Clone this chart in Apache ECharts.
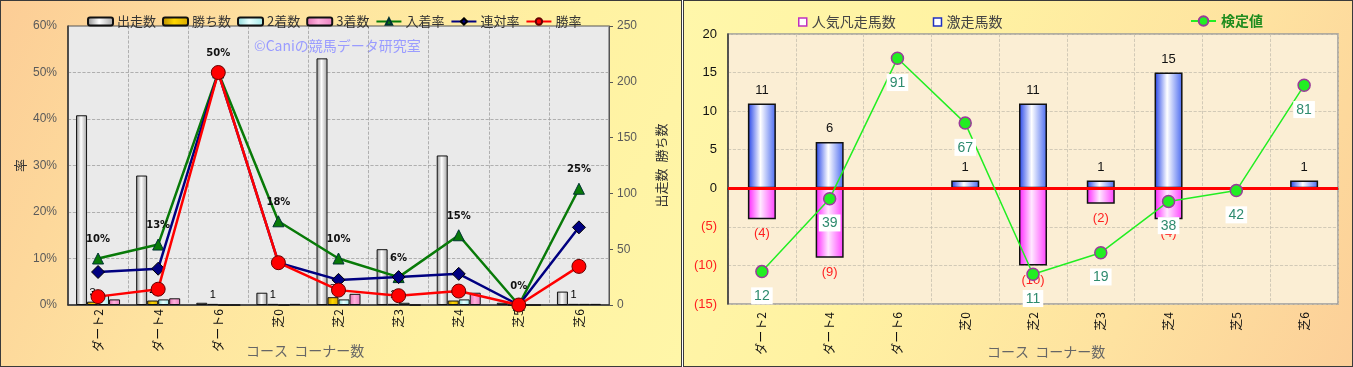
<!DOCTYPE html>
<html><head><meta charset="utf-8">
<script src="https://cdn.jsdelivr.net/npm/echarts@6/dist/echarts.min.js"></script>
<style>
html,body{margin:0;padding:0;width:1353px;height:367px;overflow:hidden;background:#fff;}
#lp{position:absolute;left:0;top:0;width:680px;height:365px;border:1px solid #3a3a3a;
 background:linear-gradient(115deg,#fccd96 0%,#fee3a0 35%,#fff2a2 70%,#fff6a8 100%);}
#rp{position:absolute;left:683px;top:0;width:668px;height:365px;border:1px solid #3a3a3a;
 background:linear-gradient(115deg,#fff7aa 0%,#fff2a2 35%,#fee2a0 70%,#fccf98 100%);}
#c{position:absolute;left:0;top:0;width:1353px;height:367px;}
</style></head><body>
<div id="lp"></div><div id="rp"></div><div id="c"></div>
<script>
// ---- data ----
const categories = ['ダート2','ダート4','ダート6','芝0','芝2','芝3','芝4','芝5','芝6'];
// left chart
const starts  = [170,116,2,11,221,50,134,2,12];   // 出走数
const wins    = [3,4,1,1,7,1,4,0,1];             // 勝ち数
const seconds = [9,5,0,0,5,2,5,0,1];             // 2着数
const thirds  = [5,6,0,1,10,0,11,0,1];           // 3着数
const placeRate = [10,13,50,18,10,6,15,0,25];    // 入着率 %
const rentaiRate = [7.1,7.8,50,9.1,5.4,6.0,6.7,0,16.7]; // 連対率 %
const winRate = [1.8,3.4,50,9.1,3.2,2.0,3.0,0,8.3];     // 勝率 %
const leftTicksPct = [0,10,20,30,40,50,60];
const rightTicksCnt = [0,50,100,150,200,250];
// right chart
const gekisou = [11,6,0,1,11,1,15,0,1];          // 激走馬数
const ninkiBonsou = [-4,-9,0,0,-10,-2,-4,0,0];   // 人気凡走馬数
const kentei = [12,39,91,67,11,19,38,42,81];     // 検定値
const rightTicks = [-15,-10,-5,0,5,10,15,20];

const FONT = "'Noto Sans CJK JP', 'Noto Sans', sans-serif";
const nz = v => (v === 0 ? null : v);

function hGrad(edge, mid, edge2){
  return new echarts.graphic.LinearGradient(0,0,1,0,[
    {offset:0,color:edge},{offset:0.45,color:mid},{offset:1,color:edge2||edge}]);
}

const chart = echarts.init(document.getElementById('c'), null, {renderer:'canvas'});
const option = {
  animation:false,
  textStyle:{fontFamily:FONT},
  graphic:[
    {type:'text', left:254, top:39, style:{text:'©Caniの競馬データ研究室', fill:'#9a9cff', font:'14px '+FONT}},
    {type:'text', left:246, top:344, style:{text:'コース  コーナー数', fill:'#666', font:'14px '+FONT}},
    {type:'text', left:987, top:345, style:{text:'コース  コーナー数', fill:'#666', font:'14px '+FONT}}
  ],
  legend:[
    {left:82, top:10, itemWidth:25, itemHeight:8, itemGap:6,
     textStyle:{fontSize:13, color:'#333', fontFamily:FONT, padding:[0,0,0,-1]},
     data:['出走数','勝ち数','2着数','3着数','入着率','連対率','勝率']},
    {left:793, top:10, itemWidth:8, itemHeight:8, itemGap:37, icon:'rect',
     textStyle:{fontSize:14, color:'#444', fontFamily:FONT},
     data:[{name:'人気凡走馬数', itemStyle:{color:'#fff', borderColor:'#c030c0', borderWidth:1.5}},
           {name:'激走馬数', itemStyle:{color:'#fff', borderColor:'#2030c0', borderWidth:1.5}}]},
    {left:1185, top:9, itemWidth:25, itemHeight:12,
     textStyle:{fontSize:14, color:'#1e8c1e', fontWeight:'bold', fontFamily:FONT},
     data:['検定値']}
  ],
  grid:[
    {left:68, top:26, width:541, height:279, show:true, backgroundColor:'#eaeaea', borderColor:'#555', borderWidth:1},
    {left:728, top:34, width:610, height:270, show:true, backgroundColor:'#fbeed4', borderColor:'#9a9a9a', borderWidth:1.5}
  ],
  xAxis:[
    {type:'category', gridIndex:0, data:categories,
     axisLine:{lineStyle:{color:'#333', width:1.5}}, axisTick:{show:false},
     axisLabel:{rotate:90, margin:4, color:'#111', fontSize:12, fontFamily:FONT},
     splitLine:{show:true, lineStyle:{color:'#a0a0a0', type:'dashed', width:0.8}}},
    {type:'category', gridIndex:1, data:categories,
     axisLine:{lineStyle:{color:'#333', width:1.5}}, axisTick:{show:false},
     axisLabel:{rotate:90, margin:8, color:'#111', fontSize:12, fontFamily:FONT},
     splitLine:{show:true, lineStyle:{color:'#c8c0b0', type:'dashed', width:0.8}}}
  ],
  yAxis:[
    {type:'value', gridIndex:0, min:leftTicksPct[0], max:leftTicksPct[leftTicksPct.length-1], interval:10,
     name:'率', nameLocation:'middle', nameGap:41, nameTextStyle:{fontSize:13, color:'#333', fontFamily:FONT},
     axisLine:{show:true, lineStyle:{color:'#333', width:1.5}}, axisTick:{show:false},
     axisLabel:{formatter:'{value}%', color:'#5a5a5a', fontSize:12, margin:11, fontFamily:'Liberation Sans'},
     splitLine:{show:true, lineStyle:{color:'#a0a0a0', type:'dashed', width:0.8}}},
    {type:'value', gridIndex:0, position:'right', min:rightTicksCnt[0], max:rightTicksCnt[rightTicksCnt.length-1], interval:50,
     name:'出走数  勝ち数', nameLocation:'middle', nameGap:46, nameRotate:90,
     nameTextStyle:{fontSize:13, color:'#333', fontFamily:FONT},
     axisLine:{show:true, lineStyle:{color:'#555', width:1}}, axisTick:{show:true, length:4, lineStyle:{color:'#555'}},
     axisLabel:{color:'#5a5a5a', fontSize:12, margin:8, fontFamily:'Liberation Sans'},
     splitLine:{show:false}},
    {type:'value', gridIndex:1, min:rightTicks[0], max:rightTicks[rightTicks.length-1], interval:5,
     axisLine:{show:true, lineStyle:{color:'#333', width:1.5}}, axisTick:{show:false},
     axisLabel:{margin:11, fontSize:13, fontFamily:'Liberation Sans',
       formatter:v => v < 0 ? '(' + (-v) + ')' : String(v),
       color:v => (Number(v) < 0 ? '#ff2020' : '#111')},
     splitLine:{show:true, lineStyle:{color:'#c8c0b0', type:'dashed', width:0.8}}},
    {type:'value', gridIndex:1, min:0, max:100, show:false, splitLine:{show:false}}
  ],
  series:[
    {name:'出走数', type:'bar', xAxisIndex:0, yAxisIndex:1, data:starts, barWidth:11, barGap:'0%',
     itemStyle:{color:hGrad('#8a8a8a','#ffffff','#a0a0a0'), borderColor:'#111', borderWidth:1}},
    {name:'勝ち数', type:'bar', xAxisIndex:0, yAxisIndex:1, data:wins, barWidth:11, barGap:'0%',
     itemStyle:{color:hGrad('#b88a00','#ffd700','#d8a800'), borderColor:'#111', borderWidth:1},
     label:{show:true, position:'top', distance:3, color:'#000', fontSize:11, fontFamily:'Liberation Sans',
       formatter:p => (p.value ? String(p.value) : '')}},
    {name:'2着数', type:'bar', xAxisIndex:0, yAxisIndex:1, data:seconds, barWidth:11, barGap:'0%',
     itemStyle:{color:hGrad('#88d8d8','#e8ffff','#a0e8e8'), borderColor:'#111', borderWidth:1}},
    {name:'3着数', type:'bar', xAxisIndex:0, yAxisIndex:1, data:thirds, barWidth:11, barGap:'0%',
     itemStyle:{color:hGrad('#e070b0','#ffb0dd','#e880c0'), borderColor:'#111', borderWidth:1}},
    {name:'入着率', type:'line', xAxisIndex:0, yAxisIndex:0, data:placeRate, z:5,
     symbol:'triangle', symbolSize:11, lineStyle:{color:'#087a08', width:2.5},
     itemStyle:{color:'#087a08', borderColor:'#033', borderWidth:1},
     label:{show:true, position:'top', distance:8, color:'#111', fontSize:10, fontWeight:'bold',
       fontFamily:'DejaVu Sans', formatter:p => Math.round(p.value) + '%'}},
    {name:'連対率', type:'line', xAxisIndex:0, yAxisIndex:0, data:rentaiRate, z:6,
     symbol:'diamond', symbolSize:13, lineStyle:{color:'#000080', width:2.5},
     itemStyle:{color:'#000080', borderColor:'#000', borderWidth:1}},
    {name:'勝率', type:'line', xAxisIndex:0, yAxisIndex:0, data:winRate, z:7,
     symbol:'circle', symbolSize:14, lineStyle:{color:'#ff0000', width:2.5},
     itemStyle:{color:'#ff0000', borderColor:'#600', borderWidth:1}},

    {name:'激走馬数', type:'bar', xAxisIndex:1, yAxisIndex:2, data:gekisou.map(nz), barWidth:28, barGap:'-100%',
     itemStyle:{color:hGrad('#2040e8','#ffffff','#4868f0'), borderColor:'#111', borderWidth:1.5},
     label:{show:true, position:'top', distance:7, color:'#111', fontSize:13, fontFamily:'Liberation Sans'}},
    {name:'人気凡走馬数', type:'bar', xAxisIndex:1, yAxisIndex:2, data:ninkiBonsou.map(nz), barWidth:28, barGap:'-100%',
     itemStyle:{color:hGrad('#ff20ff','#ffe8ff','#ff40ff'), borderColor:'#111', borderWidth:1.5},
     label:{show:true, position:'bottom', distance:8, color:'#ff2020', fontSize:13, fontFamily:'Liberation Sans',
       formatter:p => '(' + (-p.value) + ')'},
     markLine:{silent:true, symbol:['none','none'], label:{show:false},
       lineStyle:{color:'#ff0000', width:3, type:'solid'}, data:[{yAxis:0}]}},
    {name:'検定値', type:'line', xAxisIndex:1, yAxisIndex:3, data:kentei, z:8,
     symbol:'circle', symbolSize:12, lineStyle:{color:'#22ee22', width:1.5},
     itemStyle:{color:'#22ee22', borderColor:'#9a3a9a', borderWidth:1.5},
     label:{show:true, position:'bottom', distance:9, color:'#2e8b6e', fontSize:14, fontFamily:'Liberation Sans',
       backgroundColor:'#ffffff', padding:[2,3,1,3]}}
  ]
};
chart.setOption(option);
</script></body></html>
